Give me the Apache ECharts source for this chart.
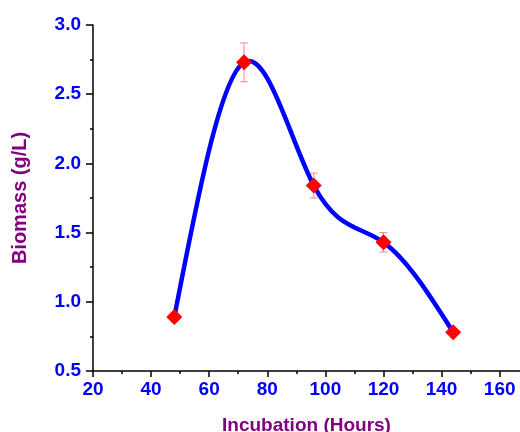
<!DOCTYPE html>
<html>
<head>
<meta charset="utf-8">
<script src="https://cdn.jsdelivr.net/npm/echarts@6/dist/echarts.min.js"></script>
<style>
  html, body { margin: 0; padding: 0; background: #fff; }
  #chart { width: 520px; height: 432px; }
</style>
</head>
<body>
<div id="chart"></div>
<script>
// Biomass over incubation time (mean ± error)
const hours = [48, 72, 96, 120, 144];
const biomass = [0.89, 2.73, 1.84, 1.43, 0.78];
const biomassErr = [0.03, 0.14, 0.09, 0.07, 0.02];

const xMajorTicks = [20, 40, 60, 80, 100, 120, 140, 160];
const xMinorTicks = [30, 50, 70, 90, 110, 130, 150];

const fontFamily = 'Liberation Sans, Arial, sans-serif';
const tickColor = '#0000ff';
const nameColor = '#800080';

const points = hours.map((h, i) => [h, biomass[i]]);
const errData = hours.map((h, i) => [h, biomass[i] - biomassErr[i], biomass[i] + biomassErr[i]]);

// Natural cubic spline: slope at each measured point (data units)
function splineSlopes(xs, ys) {
  const n = xs.length;
  const h = [], alpha = [0];
  for (let i = 0; i < n - 1; i++) h.push(xs[i + 1] - xs[i]);
  for (let i = 1; i < n - 1; i++) {
    alpha.push(3 / h[i] * (ys[i + 1] - ys[i]) - 3 / h[i - 1] * (ys[i] - ys[i - 1]));
  }
  const l = [1], mu = [0], z = [0];
  for (let i = 1; i < n - 1; i++) {
    l[i] = 2 * (xs[i + 1] - xs[i - 1]) - h[i - 1] * mu[i - 1];
    mu[i] = h[i] / l[i];
    z[i] = (alpha[i] - h[i - 1] * z[i - 1]) / l[i];
  }
  const c = new Array(n).fill(0), b = new Array(n).fill(0);
  for (let j = n - 2; j >= 0; j--) {
    c[j] = z[j] - mu[j] * c[j + 1];
    b[j] = (ys[j + 1] - ys[j]) / h[j] - h[j] * (c[j + 1] + 2 * c[j]) / 3;
  }
  // slope at last knot
  const k = n - 2;
  const dK = (c[k + 1] - c[k]) / (3 * h[k]);
  b[n - 1] = b[k] + 2 * c[k] * h[k] + 3 * dK * h[k] * h[k];
  return b;
}
const slopes = splineSlopes(hours, biomass);

const chart = echarts.init(document.getElementById('chart'), null, { renderer: 'canvas' });

chart.setOption({
  animation: false,
  backgroundColor: '#fff',
  grid: { left: 93, right: 0, top: 25, bottom: 61, containLabel: false, outerBoundsMode: 'none' },
  xAxis: [
    {
      type: 'value',
      position: 'bottom',
      min: 20,
      max: 167,
      interval: 20,
      name: 'Incubation (Hours)',
      nameLocation: 'middle',
      nameGap: 45,
      nameTextStyle: { color: nameColor, fontSize: 19, fontWeight: 'bold', fontFamily },
      axisLine: { show: true, lineStyle: { color: '#000', width: 1.5 } },
      axisTick: { show: true, customValues: xMajorTicks, length: 6, lineStyle: { color: '#000', width: 1.5 } },
      axisLabel: { customValues: xMajorTicks, color: tickColor, fontSize: 19, fontWeight: 'bold', fontFamily, margin: 9 },
      splitLine: { show: false }
    },
    {
      type: 'value',
      position: 'bottom',
      min: 20,
      max: 167,
      interval: 20,
      axisLine: { show: false },
      axisTick: { show: true, customValues: xMinorTicks, length: 3, lineStyle: { color: '#000', width: 1.5 } },
      axisLabel: { show: false },
      splitLine: { show: false }
    }
  ],
  yAxis: {
    type: 'value',
    min: 0.5,
    max: 3.0,
    interval: 0.5,
    name: 'Biomass (g/L)',
    nameLocation: 'middle',
    nameGap: 63,
    nameTextStyle: { color: nameColor, fontSize: 20, fontWeight: 'bold', fontFamily },
    axisLine: { show: true, lineStyle: { color: '#000', width: 1.5 } },
    axisTick: { show: true, length: 7, lineStyle: { color: '#000', width: 1.5 } },
    minorTick: { show: true, splitNumber: 2, length: 3, lineStyle: { color: '#000', width: 1.5 } },
    axisLabel: {
      color: tickColor, fontSize: 19, fontWeight: 'bold', fontFamily, margin: 12,
      formatter: v => v.toFixed(1)
    },
    splitLine: { show: false },
    minorSplitLine: { show: false }
  },
  series: [
    {
      // spline curve through the measured points, one cubic segment per interval
      type: 'custom',
      data: points,
      z: 2,
      silent: true,
      renderItem: (params, api) => {
        const i = params.dataIndex;
        if (i >= hours.length - 1) return null;
        const x0 = hours[i], x1 = hours[i + 1];
        const y0 = biomass[i], y1 = biomass[i + 1];
        const d = (x1 - x0) / 3;
        const p0 = api.coord([x0, y0]);
        const c1 = api.coord([x0 + d, y0 + slopes[i] * d]);
        const c2 = api.coord([x1 - d, y1 - slopes[i + 1] * d]);
        const p1 = api.coord([x1, y1]);
        return {
          type: 'bezierCurve',
          shape: { x1: p0[0], y1: p0[1], cpx1: c1[0], cpy1: c1[1], cpx2: c2[0], cpy2: c2[1], x2: p1[0], y2: p1[1] },
          style: { stroke: '#0000ff', lineWidth: 4.5, fill: null, lineCap: 'round' }
        };
      }
    },
    {
      // error bars with caps, drawn beneath the markers
      type: 'custom',
      data: errData,
      z: 3,
      silent: true,
      renderItem: (params, api) => {
        const x = api.value(0);
        const lo = api.coord([x, api.value(1)]);
        const hi = api.coord([x, api.value(2)]);
        const cap = 4;
        const style = { stroke: '#ff8080', lineWidth: 1, fill: null };
        return {
          type: 'group',
          children: [
            { type: 'line', shape: { x1: lo[0], y1: lo[1], x2: hi[0], y2: hi[1] }, style },
            { type: 'line', shape: { x1: hi[0] - cap, y1: hi[1], x2: hi[0] + cap, y2: hi[1] }, style },
            { type: 'line', shape: { x1: lo[0] - cap, y1: lo[1], x2: lo[0] + cap, y2: lo[1] }, style }
          ]
        };
      }
    },
    {
      type: 'scatter',
      data: points,
      symbol: 'diamond',
      symbolSize: 16,
      itemStyle: { color: '#ff0000', opacity: 1 },
      emphasis: { disabled: true },
      z: 4
    }
  ]
});
</script>
</body>
</html>
